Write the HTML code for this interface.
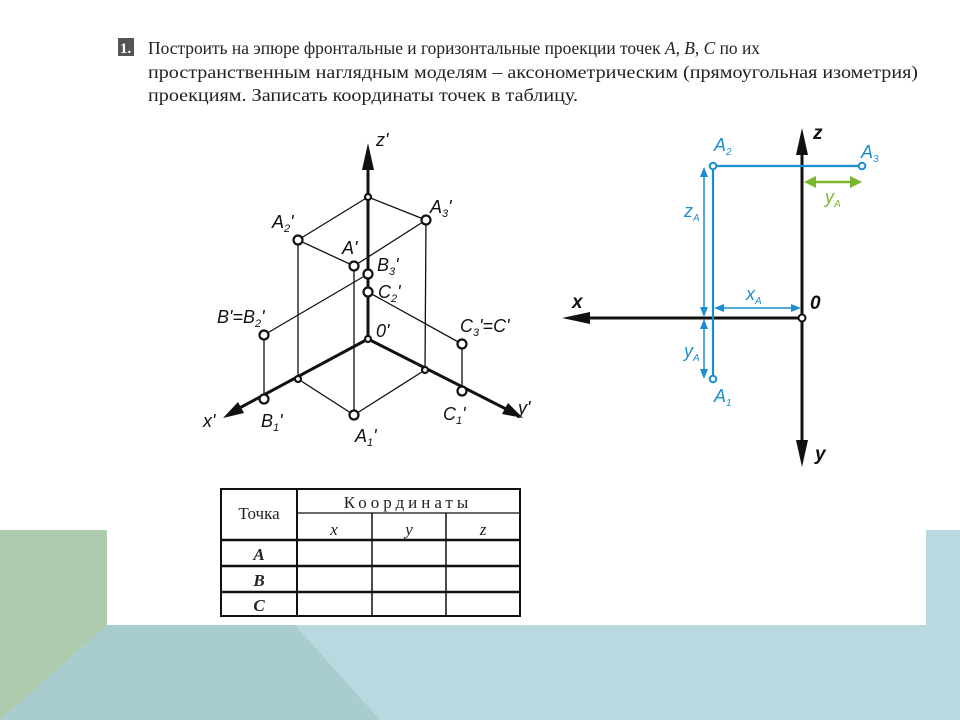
<!DOCTYPE html>
<html><head><meta charset="utf-8"><style>
html,body{margin:0;padding:0;background:#fff;}
svg{display:block;}
</style></head><body>
<svg width="960" height="720" viewBox="0 0 960 720" xmlns="http://www.w3.org/2000/svg">
<rect width="960" height="720" fill="#fff"/>
<!-- background shapes -->
<rect x="0" y="530" width="107" height="100" fill="#aecbad"/>
<rect x="926" y="530" width="34" height="100" fill="#b9d8df"/>
<polygon points="0,625 960,625 960,720 0,720" fill="#b9d8df"/>
<polygon points="107,625 295,625 380,720 0,720" fill="#a9cccf"/>
<polygon points="0,625 107,625 0,720" fill="#aecbad"/>

<!-- title -->
<rect x="118" y="38" width="16" height="18" fill="#555"/>
<text x="120" y="53" font-family="Liberation Serif, serif" font-weight="bold" font-size="15" fill="#fff">1.</text>
<g font-family="Liberation Serif, 'Noto Serif CJK SC', serif" font-size="18" fill="#222">
<text x="148" y="54" textLength="612" lengthAdjust="spacingAndGlyphs">Построить на эпюре фронтальные и горизонтальные проекции точек <tspan font-style="italic">A, B, C</tspan> по их</text>
<text x="148" y="78" textLength="770" lengthAdjust="spacingAndGlyphs">пространственным наглядным моделям – аксонометрическим (прямоугольная изометрия)</text>
<text x="148" y="101" textLength="430" lengthAdjust="spacingAndGlyphs">проекциям. Записать координаты точек в таблицу.</text>
</g>

<!-- left isometric -->
<g stroke="#111" fill="none">
<g stroke-width="1.3">
<line x1="368" y1="197" x2="298" y2="240"/>
<line x1="368" y1="197" x2="426" y2="220"/>
<line x1="298" y1="240" x2="354" y2="266"/>
<line x1="426" y1="220" x2="354" y2="266"/>
<line x1="298" y1="240" x2="298" y2="379"/>
<line x1="426" y1="220" x2="425" y2="370"/>
<line x1="354" y1="266" x2="354" y2="415"/>
<line x1="298" y1="379" x2="354" y2="415"/>
<line x1="425" y1="370" x2="354" y2="415"/>
<line x1="368" y1="274" x2="264" y2="335"/>
<line x1="368" y1="292" x2="462" y2="344"/>
<line x1="264" y1="335" x2="264" y2="399"/>
<line x1="462" y1="344" x2="462" y2="391"/>
</g>
<g stroke-width="3">
<line x1="368" y1="339" x2="368" y2="160"/>
<line x1="368" y1="339" x2="232" y2="412"/>
<line x1="368" y1="339" x2="508" y2="410"/>
</g>
</g>
<polygon points="368,143 362,170 374,170" fill="#111"/>
<polygon points="223,418 238,402 244,413" fill="#111"/>
<polygon points="523,418 502,414 508,403" fill="#111"/>
<g fill="#fff" stroke="#111" stroke-width="2.2">
<circle cx="298" cy="240" r="4.5"/><circle cx="426" cy="220" r="4.5"/>
<circle cx="354" cy="266" r="4.5"/><circle cx="368" cy="274" r="4.5"/>
<circle cx="368" cy="292" r="4.5"/><circle cx="264" cy="335" r="4.5"/>
<circle cx="462" cy="344" r="4.5"/><circle cx="264" cy="399" r="4.5"/>
<circle cx="462" cy="391" r="4.5"/><circle cx="354" cy="415" r="4.5"/>
<circle cx="368" cy="197" r="3"/><circle cx="368" cy="339" r="3"/>
<circle cx="298" cy="379" r="3"/><circle cx="425" cy="370" r="3"/>
</g>
<g font-family="Liberation Sans, sans-serif" font-style="italic" font-size="18" fill="#111">
<text x="376" y="146">z'</text>
<text x="272" y="228">A<tspan font-size="11" dy="4">2</tspan><tspan dy="-4">'</tspan></text>
<text x="430" y="213">A<tspan font-size="11" dy="4">3</tspan><tspan dy="-4">'</tspan></text>
<text x="342" y="254">A'</text>
<text x="377" y="271">B<tspan font-size="11" dy="4">3</tspan><tspan dy="-4">'</tspan></text>
<text x="378" y="298">C<tspan font-size="11" dy="4">2</tspan><tspan dy="-4">'</tspan></text>
<text x="217" y="323">B'=B<tspan font-size="11" dy="4">2</tspan><tspan dy="-4">'</tspan></text>
<text x="460" y="332">C<tspan font-size="11" dy="4">3</tspan><tspan dy="-4">'=C'</tspan></text>
<text x="376" y="337">0'</text>
<text x="203" y="427">x'</text>
<text x="261" y="427">B<tspan font-size="11" dy="4">1</tspan><tspan dy="-4">'</tspan></text>
<text x="355" y="442">A<tspan font-size="11" dy="4">1</tspan><tspan dy="-4">'</tspan></text>
<text x="443" y="420">C<tspan font-size="11" dy="4">1</tspan><tspan dy="-4">'</tspan></text>
<text x="518" y="414">y'</text>
</g>

<!-- right epure -->
<g stroke="#111" stroke-width="3">
<line x1="802" y1="145" x2="802" y2="440"/>
<line x1="802" y1="318" x2="578" y2="318"/>
</g>
<polygon points="802,128 796,155 808,155" fill="#111"/>
<polygon points="802,467 796,440 808,440" fill="#111"/>
<polygon points="562,318 590,312 590,324" fill="#111"/>
<circle cx="802" cy="318" r="3.5" fill="#fff" stroke="#111" stroke-width="2"/>
<g stroke="#1a8fd0" fill="none">
<polyline points="862,166 713,166 713,379" stroke-width="2.2"/>
<line x1="704" y1="172" x2="704" y2="312" stroke-width="1.5"/>
<line x1="704" y1="324" x2="704" y2="373" stroke-width="1.5"/>
<line x1="720" y1="308" x2="795" y2="308" stroke-width="1.5"/>
</g>
<g fill="#1a8fd0">
<polygon points="704,167 700,177 708,177"/><polygon points="704,317 700,307 708,307"/>
<polygon points="704,319 700,329 708,329"/><polygon points="704,379 700,369 708,369"/>
<polygon points="714,308 724,304 724,312"/><polygon points="801,308 791,304 791,312"/>
</g>
<g fill="#fff" stroke="#1a8fd0" stroke-width="2">
<circle cx="713" cy="166" r="3.3"/><circle cx="862" cy="166" r="3.3"/><circle cx="713" cy="379" r="3.3"/>
</g>
<line x1="812" y1="182" x2="852" y2="182" stroke="#7ab62e" stroke-width="2.5"/>
<polygon points="804,182 816,176 816,188" fill="#7ab62e"/>
<polygon points="862,182 850,176 850,188" fill="#7ab62e"/>
<g font-family="Liberation Sans, sans-serif" font-style="italic" font-size="18" fill="#1a8fd0">
<text x="714" y="151">A<tspan font-size="10" dy="4">2</tspan></text>
<text x="861" y="158">A<tspan font-size="10" dy="4">3</tspan></text>
<text x="684" y="217">z<tspan font-size="10" dy="4">A</tspan></text>
<text x="746" y="300">x<tspan font-size="10" dy="4">A</tspan></text>
<text x="684" y="357">y<tspan font-size="10" dy="4">A</tspan></text>
<text x="714" y="402">A<tspan font-size="10" dy="4">1</tspan></text>
<text x="825" y="203" fill="#7ab62e">y<tspan font-size="10" dy="4">A</tspan></text>
</g>
<g font-family="Liberation Sans, sans-serif" font-style="italic" font-weight="bold" font-size="19" fill="#111">
<text x="572" y="308">x</text>
<text x="810" y="309">0</text>
<text x="813" y="139">z</text>
<text x="815" y="460">y</text>
</g>

<!-- table -->
<g stroke="#111" fill="none">
<rect x="221" y="489" width="299" height="127" stroke-width="2"/>
<line x1="297" y1="489" x2="297" y2="616" stroke-width="2"/>
<line x1="297" y1="513" x2="520" y2="513" stroke-width="1.3"/>
<line x1="372" y1="513" x2="372" y2="616" stroke-width="1.5"/>
<line x1="446" y1="513" x2="446" y2="616" stroke-width="1.5"/>
<line x1="221" y1="540" x2="520" y2="540" stroke-width="2.5"/>
<line x1="221" y1="566" x2="520" y2="566" stroke-width="2.5"/>
<line x1="221" y1="592" x2="520" y2="592" stroke-width="2.5"/>
</g>
<g font-family="Liberation Serif, 'Noto Serif CJK SC', serif" font-size="17" fill="#222" text-anchor="middle">
<text x="259" y="519">Точка</text>
<text x="408" y="508" letter-spacing="4">Координаты</text>
<text x="334" y="535" font-style="italic">x</text>
<text x="409" y="535" font-style="italic">y</text>
<text x="483" y="535" font-style="italic">z</text>
<text x="259" y="560" font-style="italic" font-weight="bold">A</text>
<text x="259" y="586" font-style="italic" font-weight="bold">B</text>
<text x="259" y="611" font-style="italic" font-weight="bold">C</text>
</g>
</svg>
</body></html>
